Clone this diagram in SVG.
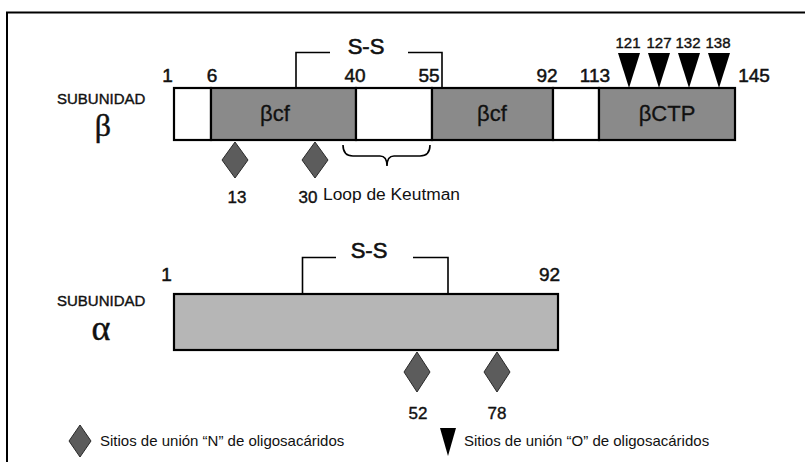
<svg xmlns="http://www.w3.org/2000/svg" width="805" height="462" viewBox="0 0 805 462">
<defs>
<style>
text{font-family:"Liberation Sans",Arial,sans-serif;fill:#111}
.num{font-size:19px;text-anchor:middle;stroke:#111;stroke-width:0.5}
.sm{font-size:15px;text-anchor:middle;stroke:#111;stroke-width:0.4}
.pos{font-size:17px;text-anchor:middle;stroke:#111;stroke-width:0.4}
.ss{font-size:22px;text-anchor:middle;stroke:#111;stroke-width:0.6}
.sub{font-size:15px;stroke:#111;stroke-width:0.4}
.lbl{font-size:16px}
.leg{font-size:15px}
.seg{font-size:22px;text-anchor:middle;stroke:#111;stroke-width:0.3}
.greek{font-family:"Liberation Serif","Times New Roman",serif;font-size:32px;text-anchor:middle;stroke:#111;stroke-width:0.4}
.white{fill:#fff;stroke:#000;stroke-width:2.2}
.dark{fill:#8a8a8a;stroke:#000;stroke-width:2.2}
.light{fill:#b6b6b6;stroke:#000;stroke-width:2.2}
.dia{fill:#5c5c5c;stroke:#2a2a2a;stroke-width:1}
.tri{fill:#000}
.line{fill:none;stroke:#000;stroke-width:1.6}
</style>
</defs>
<rect width="805" height="462" fill="#fff"/>
<path d="M7,462 V12.5 H805" fill="none" stroke="#000" stroke-width="2"/>

<g id="beta-subunit">
<text class="sub" x="57" y="104">SUBUNIDAD</text>
<text class="greek" x="103" y="136">β</text>
<rect class="white" x="174" y="88" width="37" height="52"/>
<rect class="dark" x="211" y="88" width="145" height="52"/>
<rect class="white" x="356" y="88" width="76" height="52"/>
<rect class="dark" x="432" y="88" width="121" height="52"/>
<rect class="white" x="553" y="88" width="46" height="52"/>
<rect class="dark" x="599" y="88" width="136" height="52"/>
<text class="seg" x="275" y="121">βcf</text>
<text class="seg" x="492" y="121">βcf</text>
<text class="seg" x="667" y="121">βCTP</text>
<text class="num" x="167.5" y="82">1</text>
<text class="num" x="212" y="82">6</text>
<text class="num" x="355" y="82">40</text>
<text class="num" x="429" y="82">55</text>
<text class="num" x="547" y="82">92</text>
<text class="num" x="595" y="82">113</text>
<text class="num" x="754" y="82">145</text>
</g>

<g id="beta-ss">
<path class="line" d="M296,88 V52.5 H330 M408,52.5 H442 V88"/>
<text class="ss" x="366" y="54">S-S</text>
</g>

<g id="beta-o-sites">
<polygon class="tri" points="618,53 640,53 629,88"/>
<polygon class="tri" points="648,53 670,53 659,88"/>
<polygon class="tri" points="678,53 700,53 689,88"/>
<polygon class="tri" points="708,53 730,53 719,88"/>
<text class="sm" x="628" y="48">121</text>
<text class="sm" x="659" y="48">127</text>
<text class="sm" x="688" y="48">132</text>
<text class="sm" x="718" y="48">138</text>
</g>

<g id="beta-n-sites">
<polygon class="dia" points="235,142 248,160 235,178 222,160"/>
<polygon class="dia" points="315,142 328,160 315,178 302,160"/>
<text class="pos" x="237" y="203">13</text>
<text class="pos" x="308" y="203">30</text>
</g>

<g id="loop-keutman">
<path class="line" d="M343,145 Q343,156 353,156 H380 Q387,156 387,166 Q387,156 394,156 H420 Q430,156 430,145" stroke-width="1.3"/>
<text class="lbl" x="323" y="200" textLength="137" lengthAdjust="spacingAndGlyphs">Loop de Keutman</text>
</g>

<g id="alpha-subunit">
<text class="sub" x="57" y="306">SUBUNIDAD</text>
<text class="greek" x="101" y="340" style="font-size:36px">α</text>
<rect class="light" x="174" y="294" width="384" height="56"/>
<text class="num" x="166.5" y="281">1</text>
<text class="num" x="549.5" y="281">92</text>
</g>

<g id="alpha-ss">
<path class="line" d="M302.5,294 V257.5 H336 M413,257.5 H448 V294"/>
<text class="ss" x="369" y="258">S-S</text>
</g>

<g id="alpha-n-sites">
<polygon class="dia" points="417,352 430,372 417,392 404,372"/>
<polygon class="dia" points="497,352 510,372 497,392 484,372"/>
<text class="pos" x="418" y="419">52</text>
<text class="pos" x="497" y="419">78</text>
</g>

<g id="legend">
<polygon class="dia" points="80,425 91,441 80,457 69,441"/>
<text class="leg" x="100" y="446">Sitios de unión “N” de oligosacáridos</text>
<polygon class="tri" points="440,428 456,428 448,456"/>
<text class="leg" x="464" y="446">Sitios de unión “O” de oligosacáridos</text>
</g>
</svg>
